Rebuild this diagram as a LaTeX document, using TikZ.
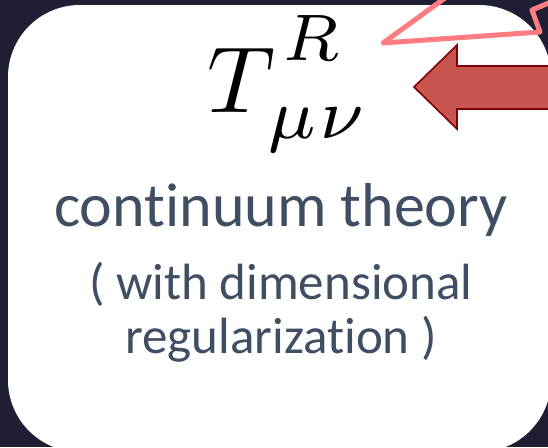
\documentclass[tikz,border=0pt]{standalone}
\usepackage{amsmath}
\usepackage{fontspec}
\setmainfont{Carlito}[Ligatures=NoCommon]
\usepackage{tikz}

\definecolor{slidebg}{RGB}{31,31,51}
\definecolor{boltpink}{RGB}{255,124,128}
\definecolor{arrowred}{RGB}{200,84,80}
\definecolor{arrowedge}{RGB}{128,0,0}
\definecolor{cardtext}{RGB}{64,78,100}

\tikzset{
  bolt/.style={boltpink, line width=5pt, line join=round, line cap=round},
  blockarrow/.style={fill=arrowred, draw=arrowedge, line width=1.6pt, line join=miter},
  bigline/.style={anchor=base, inner sep=0pt, text=cardtext, font=\fontsize{62}{70}\selectfont},
  smallline/.style={anchor=base, inner sep=0pt, text=cardtext, font=\fontsize{51}{58}\selectfont}
}

\begin{document}
\begin{tikzpicture}[x=1pt, y=-1pt]
        \useasboundingbox (0,0) rectangle (548,447);
        \clip (0,0) rectangle (548,447);
        % slide background and white card
        \fill[slidebg] (0,0) rectangle (548,447);
        \fill[white, rounded corners=72pt] (8,5) rectangle (551,452);
        % lightning bolt (outline only, runs off the top right)
        \draw[bolt] (463,-15) -- (383,43) -- (540,32) -- (532,10) -- (575,-8);
        % left pointing block arrow
        \draw[blockarrow] (414,87) -- (457,45) -- (457,66) -- (575,66)
                       -- (575,109) -- (457,109) -- (457,129) -- cycle;
        % texts
        \node[anchor=base west, inner sep=0pt]
          (tensor) at (207,112) {\scalebox{9.4}{$\displaystyle
            T^{\kern0.8pt\raisebox{1.3pt}{$\scriptstyle R$}}_{\kern0.6pt\raisebox{-0.4pt}{\scalebox{1.08}{$\scriptstyle\mu\kern0.2pt\nu$}}}$}};
        \node[bigline] (theory) at (281,226) {continuum theory};
        \node[smallline] (withdim) at (281,299) {( with dimensional};
        \node[smallline] (regul) at (281,353) {regularization )};
\end{tikzpicture}
\end{document}
